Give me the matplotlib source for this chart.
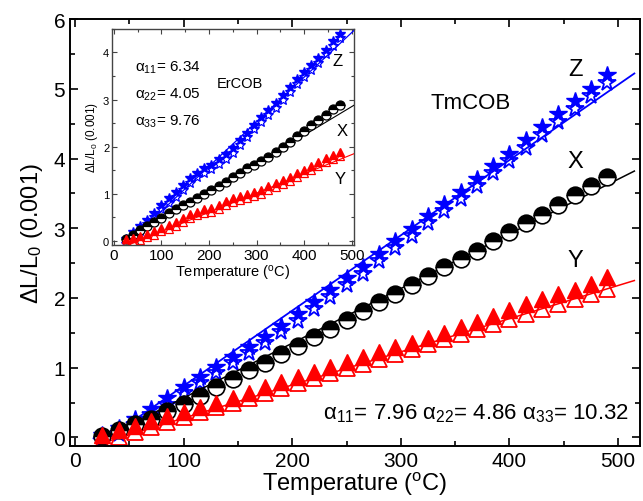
import matplotlib
matplotlib.use("Agg")
import matplotlib.pyplot as plt
from matplotlib.ticker import MultipleLocator

plt.rcParams['font.family'] = ['Liberation Sans', 'DejaVu Sans']
plt.rcParams['mathtext.fontset'] = 'custom'
plt.rcParams['mathtext.rm'] = 'Liberation Sans'
plt.rcParams['mathtext.it'] = 'Liberation Sans:italic'

# ---- TmCOB (main panel) ----
temp = [25, 40, 55, 70, 85, 100, 115, 130, 145, 160, 175, 190, 205, 220, 235, 250,
        265, 280, 295, 310, 325, 340, 355, 370, 385, 400, 415, 430, 445, 460, 475, 490]
z_fill = [0.03, 0.13, 0.27, 0.41, 0.57, 0.73, 0.87, 1.01, 1.16, 1.30, 1.44, 1.60, 1.77, 1.94, 2.11, 2.28,
          2.45, 2.63, 2.81, 2.99, 3.17, 3.35, 3.52, 3.70, 3.89, 4.07, 4.26, 4.45, 4.64, 4.82, 5.00, 5.20]
z_open = [-0.05, 0.05, 0.18, 0.32, 0.47, 0.63, 0.78, 0.92, 1.07, 1.21, 1.35, 1.51, 1.67, 1.84, 2.01, 2.18,
          2.35, 2.53, 2.71, 2.89, 3.07, 3.25, 3.42, 3.60, 3.79, 3.97, 4.15, 4.34, 4.53, 4.71, 4.89, 5.09]
x_half = [0.02, 0.10, 0.19, 0.27, 0.38, 0.48, 0.60, 0.72, 0.84, 0.96, 1.07, 1.20, 1.31, 1.44, 1.56, 1.68,
          1.81, 1.94, 2.06, 2.18, 2.31, 2.44, 2.56, 2.68, 2.81, 2.94, 3.07, 3.19, 3.33, 3.47, 3.60, 3.73]
y_fill = [0.04, 0.10, 0.17, 0.24, 0.30, 0.37, 0.44, 0.50, 0.57, 0.64, 0.72, 0.80, 0.87, 0.94, 1.01, 1.08,
          1.15, 1.22, 1.29, 1.36, 1.43, 1.50, 1.58, 1.66, 1.74, 1.83, 1.91, 1.98, 2.05, 2.12, 2.20, 2.30]
y_open = [-0.06, 0.01, 0.08, 0.15, 0.22, 0.29, 0.36, 0.43, 0.50, 0.57, 0.64, 0.71, 0.78, 0.85, 0.92, 0.99,
          1.06, 1.13, 1.20, 1.27, 1.34, 1.41, 1.48, 1.55, 1.62, 1.70, 1.77, 1.84, 1.92, 1.99, 2.06, 2.13]
fit_t = [25, 515]
fit_z = [-0.07, 5.22]
fit_x = [-0.02, 3.82]
fit_y = [-0.08, 2.25]

# ---- ErCOB (inset) ----
temp_in = [25, 40, 55, 70, 85, 100, 115, 130, 145, 160, 175, 190, 205, 220, 235, 250,
           265, 280, 295, 310, 325, 340, 355, 370, 385, 400, 415, 430, 445, 460, 475]
z_in = [0.04, 0.18, 0.31, 0.45, 0.60, 0.77, 0.91, 1.04, 1.18, 1.33, 1.45, 1.54, 1.62, 1.73, 1.84, 1.97,
        2.14, 2.30, 2.47, 2.63, 2.78, 2.93, 3.09, 3.27, 3.43, 3.58, 3.73, 3.88, 4.06, 4.24, 4.40]
z_in_open = [-0.06, 0.08, 0.21, 0.35, 0.50, 0.67, 0.81, 0.94, 1.08, 1.23, 1.35, 1.44, 1.52, 1.63, 1.74, 1.87,
             2.04, 2.20, 2.37, 2.53, 2.68, 2.83, 2.99, 3.17, 3.33, 3.48, 3.63, 3.78, 3.96, 4.14, 4.30]
x_in = [0.04, 0.13, 0.22, 0.31, 0.40, 0.49, 0.58, 0.67, 0.76, 0.83, 0.90, 0.99, 1.08, 1.17, 1.25, 1.35,
        1.45, 1.54, 1.62, 1.70, 1.78, 1.89, 2.00, 2.10, 2.23, 2.34, 2.46, 2.56, 2.68, 2.79, 2.88]
y_in = [0.03, 0.06, 0.10, 0.15, 0.21, 0.28, 0.34, 0.40, 0.48, 0.56, 0.62, 0.67, 0.70, 0.76, 0.84, 0.90,
        0.95, 0.99, 1.03, 1.08, 1.16, 1.22, 1.29, 1.36, 1.44, 1.51, 1.58, 1.67, 1.75, 1.82, 1.89]
y_in_open = [-0.05, -0.02, 0.02, 0.07, 0.13, 0.20, 0.26, 0.32, 0.40, 0.48, 0.54, 0.59, 0.62, 0.68, 0.76, 0.82,
             0.87, 0.91, 0.95, 1.00, 1.08, 1.14, 1.21, 1.28, 1.36, 1.43, 1.50, 1.59, 1.67, 1.74, 1.81]
fit_t_in = [28, 505]
fit_z_in = [-0.05, 4.47]
fit_x_in = [-0.02, 2.88]
fit_y_in = [-0.10, 1.85]

BLUE = '#0000ff'
RED = '#ff0000'

fig = plt.figure(figsize=(6.43, 5.02), dpi=100)
ax = fig.add_axes([0.109, 0.11, 0.886, 0.85])

ax.plot(temp, z_open, ls='none', marker='*', ms=13, mfc='none', mec=BLUE, mew=1.3, zorder=2)
ax.plot(fit_t, fit_z, color=BLUE, lw=1.3, zorder=3)
ax.plot(temp, z_fill, ls='none', marker='*', ms=13, color=BLUE, zorder=4)
ax.plot(fit_t, fit_x, color='k', lw=1.1, zorder=3)
ax.plot(temp, x_half, ls='none', marker='o', ms=12, fillstyle='top', mfc='k',
        mfcalt='white', mec='k', mew=1.2, zorder=4)
ax.plot(temp, y_open, ls='none', marker='^', ms=11, mfc='none', mec=RED, mew=1.3, zorder=2)
ax.plot(fit_t, fit_y, color=RED, lw=1.1, zorder=3)
ax.plot(temp, y_fill, ls='none', marker='^', ms=11, color=RED, zorder=4)

ax.set_xlim(-4.6, 520)
ax.set_ylim(-0.12, 6.0)
ax.xaxis.set_major_locator(MultipleLocator(100))
ax.xaxis.set_minor_locator(MultipleLocator(50))
ax.yaxis.set_major_locator(MultipleLocator(1))
ax.yaxis.set_minor_locator(MultipleLocator(0.5))
ax.tick_params(which='both', direction='in', top=True, right=True, width=1.2)
ax.tick_params(which='major', length=6, labelsize=15)
ax.tick_params(which='minor', length=3.5)
for s in ax.spines.values():
    s.set_linewidth(1.4)
ax.set_xlabel('Temperature ($^{\\rm o}$C)', fontsize=17, labelpad=0)
ax.set_ylabel('$\\Delta$L/L$_0$ (0.001)', fontsize=17, labelpad=6)

ax.text(461, 5.28, 'Z', fontsize=17, ha='center', va='center')
ax.text(461, 3.97, 'X', fontsize=17, ha='center', va='center')
ax.text(461, 2.54, 'Y', fontsize=17, ha='center', va='center')
ax.text(364, 4.8, 'TmCOB', fontsize=16, ha='center', va='center')
ax.text(510, 0.35, 'α$_{11}$= 7.96 α$_{22}$= 4.86 α$_{33}$= 10.32',
        fontsize=16, ha='right', va='center')

# inset
ins = fig.add_axes([0.1742, 0.51, 0.3764, 0.4303])
ins.plot(temp_in, z_in_open, ls='none', marker='*', ms=7.5, mfc='none', mec=BLUE, mew=0.9, zorder=2)
ins.plot(fit_t_in, fit_z_in, color=BLUE, lw=0.9, zorder=3)
ins.plot(temp_in, z_in, ls='none', marker='*', ms=7.5, color=BLUE, zorder=4)
ins.plot(fit_t_in, fit_x_in, color='k', lw=0.8, zorder=3)
ins.plot(temp_in, x_in, ls='none', marker='o', ms=6.5, fillstyle='top', mfc='k',
         mfcalt='white', mec='k', mew=0.9, zorder=4)
ins.plot(temp_in, y_in_open, ls='none', marker='^', ms=6, mfc='none', mec=RED, mew=0.9, zorder=2)
ins.plot(fit_t_in, fit_y_in, color=RED, lw=0.8, zorder=3)
ins.plot(temp_in, y_in, ls='none', marker='^', ms=6, color=RED, zorder=4)

ins.set_xlim(-4, 505)
ins.set_ylim(-0.09, 4.5)
ins.xaxis.set_major_locator(MultipleLocator(100))
ins.xaxis.set_minor_locator(MultipleLocator(50))
ins.yaxis.set_major_locator(MultipleLocator(1))
ins.yaxis.set_minor_locator(MultipleLocator(0.5))
ins.tick_params(which='both', direction='in', top=True, right=True, width=0.8, color='#444444')
ins.tick_params(which='major', length=3.5, pad=2)
ins.tick_params(which='minor', length=2)
ins.tick_params(axis='x', labelsize=11)
ins.tick_params(axis='y', labelsize=8)
for s in ins.spines.values():
    s.set_linewidth(1.0)
    s.set_color('#444444')
ins.set_xlabel('Temperature ($^{\\rm o}$C)', fontsize=10.5, labelpad=1)
ins.set_ylabel('$\\Delta$L/L$_0$ (0.001)', fontsize=8.5, labelpad=2)

ins.text(44, 3.7, 'α$_{11}$= 6.34', fontsize=11, va='center')
ins.text(44, 3.13, 'α$_{22}$= 4.05', fontsize=11, va='center')
ins.text(44, 2.55, 'α$_{33}$= 9.76', fontsize=11, va='center')
ins.text(265, 3.36, 'ErCOB', fontsize=10.5, ha='center', va='center')
ins.text(470, 3.83, 'Z', fontsize=12, ha='center', va='center')
ins.text(481, 2.34, 'X', fontsize=12, ha='center', va='center')
ins.text(475, 1.32, 'Y', fontsize=12, ha='center', va='center')

fig.savefig('out.png', dpi=100)
